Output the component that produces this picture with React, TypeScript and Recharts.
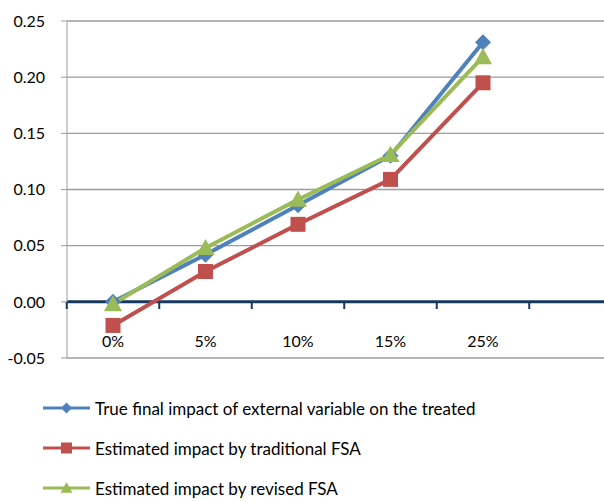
import React from 'react';
import { LineChart, Line, XAxis, YAxis, CartesianGrid, ReferenceLine } from 'recharts';

const categories = ['0%', '5%', '10%', '15%', '25%'];
const trueImpact = [0.0, 0.042, 0.086, 0.13, 0.231];
const traditionalFsa = [-0.021, 0.027, 0.069, 0.109, 0.195];
const revisedFsa = [-0.002, 0.048, 0.091, 0.131, 0.218];
const yTicks = [-0.05, 0, 0.05, 0.1, 0.15, 0.2, 0.25];

const seriesNames = [
  'True final impact of external variable on the treated',
  'Estimated impact by traditional FSA',
  'Estimated impact by revised FSA',
];

const BLUE = '#4f81bd';
const RED = '#c0504d';
const GREEN = '#9bbb59';
const NAVY = '#17375e';
const GRID = '#9c9c9c';
const FONT = 'Lato, "Open Sans", sans-serif';

const data = categories.map((c, i) => ({
  cat: c,
  trueImpact: trueImpact[i],
  traditional: traditionalFsa[i],
  revised: revisedFsa[i],
}));

// geometry of the category axis that sits on the zero line
const ZERO_Y = 302;
const LABEL_Y = 340;
const HALF_BAND = 46.25;

function CatTick(props: any) {
  const { x, payload, index } = props;
  return (
    <g>
      <text x={x} y={LABEL_Y} textAnchor="middle" dominantBaseline="central" fontSize={16} fontFamily={FONT} fill="#000">
        {payload.value}
      </text>
      <line x1={x - HALF_BAND} x2={x - HALF_BAND} y1={ZERO_Y} y2={ZERO_Y + 7} stroke={NAVY} strokeWidth={2} />
      {index === categories.length - 1 && (
        <line x1={x + HALF_BAND} x2={x + HALF_BAND} y1={ZERO_Y} y2={ZERO_Y + 7} stroke={NAVY} strokeWidth={2} />
      )}
    </g>
  );
}

function Diamond({ cx, cy, s = 7, color }: any) {
  return <polygon points={`${cx},${cy - s} ${cx + s},${cy} ${cx},${cy + s} ${cx - s},${cy}`} fill={color} />;
}
function Square({ cx, cy, s = 7, color }: any) {
  return <rect x={cx - s} y={cy - s} width={s * 2} height={s * 2} fill={color} />;
}
function Triangle({ cx, cy, s = 8, color }: any) {
  return <polygon points={`${cx},${cy - s} ${cx + s},${cy + s * 0.8} ${cx - s},${cy + s * 0.8}`} fill={color} />;
}

const legendItems = [
  { name: seriesNames[0], color: BLUE, Shape: Diamond, s: 5.5 },
  { name: seriesNames[1], color: RED, Shape: Square, s: 5.5 },
  { name: seriesNames[2], color: GREEN, Shape: Triangle, s: 6 },
];

export default function App() {
  return (
    <div style={{ position: 'absolute', left: 0, top: 0, width: 604, height: 502, background: '#fff' }}>
      <LineChart width={604} height={370} data={data} margin={{ top: 21, right: 0, left: 0, bottom: 0 }}>
        <CartesianGrid vertical={false} stroke={GRID} strokeWidth={1.3} />
        <XAxis
          dataKey="cat"
          height={12}
          padding={{ left: 46, right: 121 }}
          axisLine={false}
          tickLine={false}
          interval={0}
          tick={<CatTick />}
        />
        <YAxis
          width={67}
          domain={[-0.05, 0.25]}
          ticks={yTicks}
          tickFormatter={(v: number) => v.toFixed(2)}
          stroke={GRID}
          tickSize={6}
          tickMargin={16}
          tick={{ fill: '#000', fontSize: 16, fontFamily: FONT }}
        />
        <ReferenceLine y={0} stroke={NAVY} strokeWidth={3} />
        <Line
          dataKey="trueImpact"
          name={seriesNames[0]}
          stroke={BLUE}
          strokeWidth={4}
          isAnimationActive={false}
          dot={(p: any) => <Diamond key={p.index} cx={p.cx} cy={p.cy} s={8} color={BLUE} />}
        />
        <Line
          dataKey="traditional"
          name={seriesNames[1]}
          stroke={RED}
          strokeWidth={4}
          isAnimationActive={false}
          dot={(p: any) => <Square key={p.index} cx={p.cx} cy={p.cy} s={7.5} color={RED} />}
        />
        <Line
          dataKey="revised"
          name={seriesNames[2]}
          stroke={GREEN}
          strokeWidth={4}
          isAnimationActive={false}
          dot={(p: any) => <Triangle key={p.index} cx={p.cx} cy={p.cy} s={9} color={GREEN} />}
        />
      </LineChart>
      <svg width={604} height={132} style={{ position: 'absolute', left: 0, top: 370 }}>
        {legendItems.map((it, i) => {
          const y = 38 + i * 40;
          return (
            <g key={it.name}>
              <line x1={43} x2={90} y1={y} y2={y} stroke={it.color} strokeWidth={3} />
              <it.Shape cx={66.5} cy={y} s={it.s} color={it.color} />
              <text x={95} y={y} dominantBaseline="central" fontSize={17} fontFamily={FONT} fill="#000">
                {it.name}
              </text>
            </g>
          );
        })}
      </svg>
    </div>
  );
}
